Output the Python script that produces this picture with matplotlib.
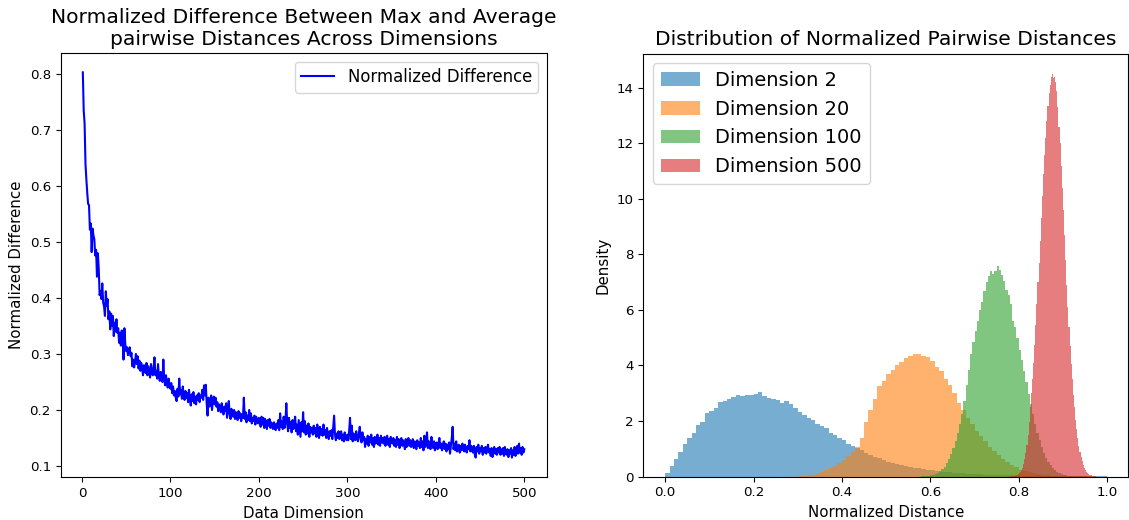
import matplotlib
matplotlib.use("Agg")
import matplotlib.pyplot as plt
import numpy as np

# left panel: normalized (max - mean) / max pairwise distance, dims 1..500
dimensions = list(range(1, 501))
normalized_diff = [
    0.803, 0.735, 0.712, 0.640, 0.612, 0.588, 0.568, 0.566, 0.522, 0.533,
    0.482, 0.524, 0.512, 0.505, 0.476, 0.486, 0.438, 0.480, 0.452, 0.405,
    0.412, 0.398, 0.426, 0.392, 0.385, 0.368, 0.412, 0.386, 0.398, 0.362,
    0.376, 0.344, 0.372, 0.350, 0.368, 0.332, 0.356, 0.340, 0.362, 0.338,
    0.346, 0.320, 0.338, 0.315, 0.342, 0.330, 0.290, 0.346, 0.318, 0.305,
    0.312, 0.298, 0.306, 0.312, 0.296, 0.302, 0.278, 0.290, 0.276, 0.286,
    0.300, 0.282, 0.296, 0.274, 0.288, 0.270, 0.284, 0.276, 0.262, 0.280,
    0.272, 0.266, 0.284, 0.262, 0.278, 0.268, 0.258, 0.282, 0.270, 0.262,
    0.276, 0.294, 0.262, 0.270, 0.256, 0.282, 0.260, 0.252, 0.268, 0.258,
    0.250, 0.290, 0.256, 0.244, 0.262, 0.248, 0.240, 0.256, 0.246, 0.238,
    0.248, 0.230, 0.242, 0.226, 0.234, 0.222, 0.216, 0.238, 0.224, 0.256,
    0.228, 0.236, 0.220, 0.242, 0.226, 0.218, 0.234, 0.222, 0.230, 0.214,
    0.236, 0.220, 0.208, 0.228, 0.216, 0.232, 0.212, 0.224, 0.210, 0.226,
    0.218, 0.230, 0.214, 0.226, 0.222, 0.236, 0.218, 0.244, 0.226, 0.245,
    0.212, 0.190, 0.222, 0.206, 0.214, 0.226, 0.200, 0.218, 0.224, 0.210,
    0.222, 0.206, 0.214, 0.198, 0.210, 0.204, 0.196, 0.212, 0.200, 0.192,
    0.206, 0.198, 0.212, 0.186, 0.200, 0.216, 0.192, 0.184, 0.202, 0.194,
    0.188, 0.200, 0.184, 0.196, 0.190, 0.182, 0.198, 0.186, 0.194, 0.180,
    0.192, 0.186, 0.222, 0.184, 0.196, 0.178, 0.190, 0.182, 0.200, 0.180,
    0.194, 0.176, 0.186, 0.180, 0.190, 0.174, 0.188, 0.182, 0.176, 0.186,
    0.180, 0.170, 0.188, 0.174, 0.186, 0.168, 0.184, 0.178, 0.166, 0.182,
    0.172, 0.184, 0.168, 0.178, 0.170, 0.166, 0.178, 0.168, 0.164, 0.176,
    0.168, 0.182, 0.164, 0.194, 0.170, 0.180, 0.166, 0.188, 0.168, 0.178,
    0.212, 0.176, 0.162, 0.186, 0.168, 0.178, 0.160, 0.182, 0.166, 0.176,
    0.188, 0.162, 0.174, 0.156, 0.182, 0.166, 0.152, 0.178, 0.162, 0.196,
    0.160, 0.180, 0.156, 0.172, 0.158, 0.176, 0.152, 0.170, 0.160, 0.168,
    0.156, 0.172, 0.158, 0.168, 0.152, 0.174, 0.160, 0.150, 0.170, 0.156,
    0.166, 0.154, 0.174, 0.156, 0.164, 0.150, 0.168, 0.156, 0.148, 0.162,
    0.154, 0.164, 0.148, 0.168, 0.190, 0.156, 0.146, 0.158, 0.150, 0.162,
    0.148, 0.158, 0.162, 0.146, 0.156, 0.144, 0.160, 0.150, 0.146, 0.156,
    0.146, 0.162, 0.186, 0.148, 0.172, 0.144, 0.158, 0.148, 0.146, 0.162,
    0.150, 0.144, 0.158, 0.170, 0.148, 0.142, 0.160, 0.146, 0.152, 0.134,
    0.148, 0.140, 0.154, 0.136, 0.152, 0.142, 0.156, 0.138, 0.150, 0.134,
    0.152, 0.140, 0.146, 0.156, 0.138, 0.150, 0.136, 0.154, 0.142, 0.150,
    0.140, 0.152, 0.136, 0.148, 0.154, 0.138, 0.148, 0.134, 0.152, 0.142,
    0.140, 0.150, 0.136, 0.146, 0.134, 0.152, 0.138, 0.148, 0.132, 0.144,
    0.150, 0.136, 0.146, 0.138, 0.130, 0.148, 0.134, 0.144, 0.150, 0.136,
    0.146, 0.134, 0.142, 0.148, 0.132, 0.144, 0.136, 0.130, 0.146, 0.136,
    0.142, 0.132, 0.150, 0.134, 0.144, 0.128, 0.154, 0.134, 0.142, 0.160,
    0.132, 0.144, 0.134, 0.130, 0.152, 0.136, 0.132, 0.144, 0.128, 0.140,
    0.142, 0.130, 0.138, 0.150, 0.132, 0.140, 0.128, 0.138, 0.144, 0.130,
    0.140, 0.126, 0.138, 0.130, 0.142, 0.122, 0.136, 0.150, 0.170, 0.130,
    0.140, 0.128, 0.144, 0.126, 0.136, 0.138, 0.124, 0.136, 0.128, 0.140,
    0.130, 0.126, 0.138, 0.128, 0.124, 0.136, 0.130, 0.146, 0.126, 0.136,
    0.128, 0.124, 0.136, 0.120, 0.115, 0.134, 0.126, 0.138, 0.122, 0.132,
    0.126, 0.136, 0.120, 0.132, 0.124, 0.134, 0.122, 0.132, 0.138, 0.124,
    0.130, 0.118, 0.132, 0.116, 0.128, 0.134, 0.122, 0.130, 0.120, 0.132,
    0.124, 0.134, 0.120, 0.130, 0.122, 0.132, 0.118, 0.134, 0.124, 0.120,
    0.130, 0.116, 0.128, 0.122, 0.132, 0.115, 0.128, 0.120, 0.134, 0.118,
    0.128, 0.136, 0.122, 0.140, 0.124, 0.132, 0.120, 0.134, 0.124, 0.130,
]

# right panel: density histograms of normalized pairwise distances
hist_labels = ["Dimension 2", "Dimension 20", "Dimension 100", "Dimension 500"]
bin_start = [0.0, 0.30, 0.58, 0.78]
bin_width = [0.01, 0.01, 0.005, 0.0025]

density_d2 = [
    0.14, 0.38, 0.64, 0.90, 1.16, 1.40, 1.58, 1.84, 1.97, 2.30,
    2.36, 2.48, 2.68, 2.72, 2.78, 2.87, 2.92, 2.90, 2.92, 2.94,
    2.99, 3.03, 2.90, 2.84, 2.78, 2.74, 2.66, 2.72, 2.60, 2.48,
    2.34, 2.22, 2.10, 2.04, 1.90, 1.82, 1.74, 1.58, 1.48, 1.38,
    1.32, 1.18, 1.10, 1.04, 0.94, 0.86, 0.78, 0.72, 0.66, 0.60,
    0.54, 0.49, 0.45, 0.41, 0.38, 0.35, 0.32, 0.29, 0.27, 0.25,
    0.22, 0.20, 0.18, 0.165, 0.15, 0.14, 0.125, 0.115, 0.105, 0.095,
    0.085, 0.078, 0.07, 0.064, 0.058, 0.052, 0.047, 0.042, 0.037, 0.033,
    0.029, 0.025, 0.022, 0.019, 0.016, 0.014, 0.012, 0.010, 0.008, 0.006,
    0.005, 0.004, 0.003, 0.002, 0.002, 0.001, 0.001, 0.0005, 0.0003, 0.0002,
]
density_d20 = [
    0.005, 0.02, 0.04, 0.07, 0.10, 0.15, 0.22, 0.30, 0.38, 0.47,
    0.58, 0.74, 0.90, 1.05, 1.40, 1.95, 2.40, 2.78, 3.25, 3.45,
    3.68, 3.85, 4.02, 4.12, 4.27, 4.35, 4.42, 4.42, 4.35, 4.30,
    4.15, 3.95, 3.80, 3.52, 3.28, 3.00, 2.66, 2.40, 2.10, 1.90,
    1.65, 1.45, 1.28, 1.08, 0.92, 0.76, 0.64, 0.52, 0.42, 0.33,
    0.25, 0.19, 0.15, 0.11, 0.08, 0.06, 0.045, 0.03, 0.02, 0.014,
    0.010, 0.007, 0.005, 0.003, 0.002, 0.001, 0.0005,
]
density_d100 = [
    0.01, 0.015, 0.02, 0.03, 0.05, 0.07, 0.10, 0.14, 0.19, 0.26,
    0.35, 0.47, 0.62, 0.80, 1.02, 1.28, 1.58, 1.90, 2.25, 2.72,
    3.30, 3.85, 4.40, 4.85, 5.25, 5.62, 6.00, 6.30, 6.68, 7.00,
    7.22, 7.40, 7.30, 7.40, 7.58, 7.45, 7.25, 7.05, 6.72, 6.55,
    6.20, 5.62, 5.40, 5.00, 4.55, 4.20, 3.80, 3.40, 2.98, 2.60,
    2.25, 1.90, 1.58, 1.30, 1.06, 0.86, 0.68, 0.54, 0.42, 0.32,
    0.24, 0.18, 0.13, 0.095, 0.07, 0.05, 0.035, 0.025, 0.017, 0.012,
    0.008, 0.005, 0.003, 0.002, 0.001,
]
density_d500 = [
    0.005, 0.01, 0.015, 0.02, 0.03, 0.045, 0.06, 0.08, 0.11, 0.15,
    0.22, 0.32, 0.45, 0.62, 0.85, 1.15, 1.50, 1.95, 2.50, 3.00,
    3.50, 4.10, 4.75, 5.45, 6.20, 7.00, 7.70, 8.50, 9.30, 10.10,
    10.90, 11.60, 12.20, 12.80, 13.35, 13.80, 14.10, 14.40, 14.50, 14.35,
    14.40, 14.20, 13.90, 13.30, 12.60, 12.00, 11.20, 10.40, 9.60, 8.70,
    7.80, 6.90, 6.10, 5.40, 4.70, 4.05, 3.50, 2.95, 2.50, 2.05,
    1.70, 1.38, 1.10, 0.88, 0.70, 0.55, 0.42, 0.32, 0.24, 0.18,
    0.13, 0.09, 0.06, 0.04, 0.025, 0.015, 0.008, 0.004,
]
densities = [density_d2, density_d20, density_d100, density_d500]
hist_colors = ["tab:blue", "tab:orange", "tab:green", "tab:red"]

fig = plt.figure(figsize=(11.29, 5.2), dpi=100)

# left panel
ax1 = fig.add_axes([60.7 / 1129, 42.7 / 520, 486 / 1129, 424 / 520])
ax1.plot(dimensions, normalized_diff, color="blue", linewidth=1.5,
         label="Normalized Difference")
ax1.set_xlim(-24, 525.3)
ax1.set_ylim(0.0798, 0.837)
ax1.set_title("Normalized Difference Between Max and Average\n"
              "pairwise Distances Across Dimensions", fontsize=14.6)
ax1.set_xlabel("Data Dimension", fontsize=10.8)
ax1.set_ylabel("Normalized Difference", fontsize=10.8)
ax1.tick_params(labelsize=9.6)
ax1.legend(loc="upper right", fontsize=11.9)

# right panel
ax2 = fig.add_axes([643.3 / 1129, 43.5 / 520, 485 / 1129, 423 / 520])
for heights, start, width, color, label in zip(densities, bin_start, bin_width,
                                               hist_colors, hist_labels):
    edges = start + width * np.arange(len(heights) + 1)
    ax2.stairs(heights, edges, fill=True, color=color, alpha=0.6,
               linewidth=0, label=label)
ax2.set_xlim(-0.0494, 1.048)
ax2.set_ylim(0, 15.24)
ax2.set_title("Distribution of Normalized Pairwise Distances", fontsize=14.6)
ax2.set_xlabel("Normalized Distance", fontsize=10.8)
ax2.set_ylabel("Density", fontsize=10.8)
ax2.tick_params(labelsize=9.6)
ax2.legend(loc="upper left", fontsize=14)

fig.savefig("out.png", dpi=100)
plt.close(fig)
